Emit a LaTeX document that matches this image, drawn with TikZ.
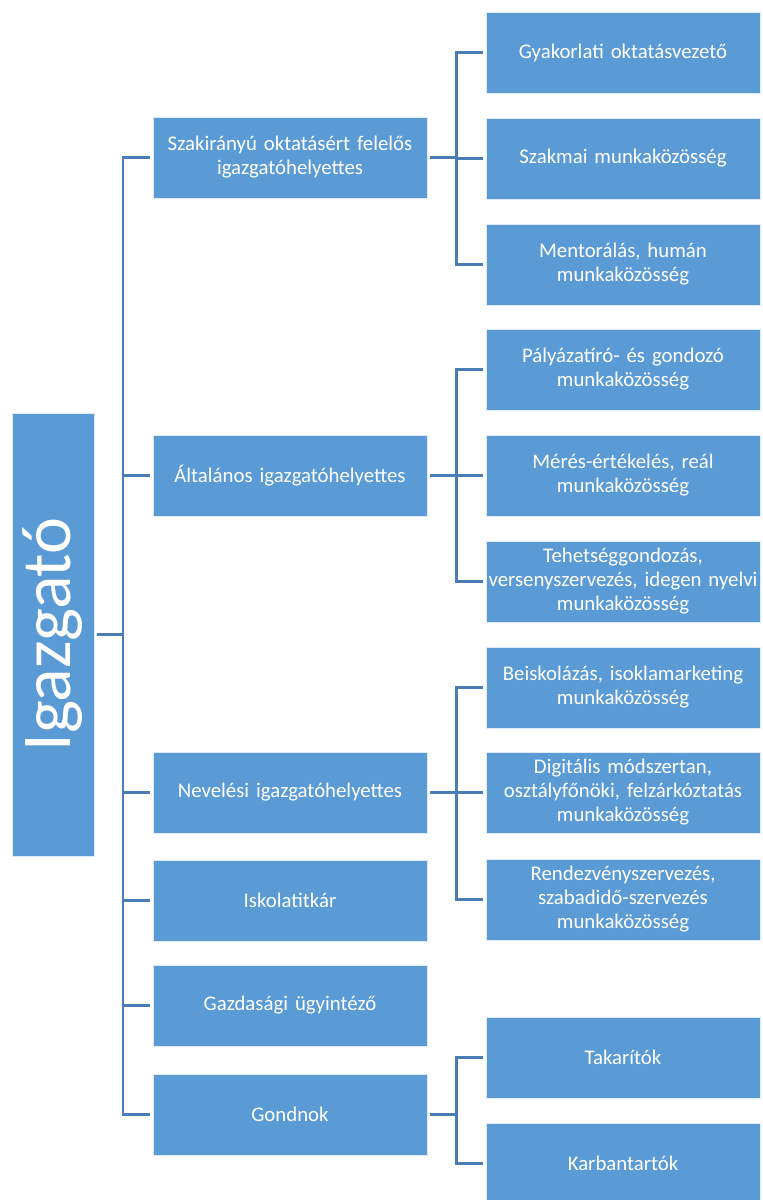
\documentclass[tikz,border=0pt]{standalone}
\usepackage{fontspec}
\setmainfont{Carlito}
\definecolor{boxblue}{HTML}{5B9BD5}
\definecolor{lineblue}{HTML}{4A7DB5}
\begin{document}
\begin{tikzpicture}[x=1pt,y=-1pt,
  box/.style={fill=boxblue,draw=white!80!boxblue,line width=0.6pt,text=white,
    minimum width=274pt,minimum height=81pt,text width=270pt,align=center,
    inner sep=0pt,outer sep=3pt,font=\fontsize{20.8}{24}\selectfont},
  link/.style={draw=lineblue,line width=2.2pt}]
  \useasboundingbox (0,0) rectangle (763,1200);
  \node [box,minimum width=82pt,minimum height=443pt,text width=,font=\fontsize{70}{74}\selectfont]
    (igazgato) at (53,634.5) {\rotatebox{90}{Igazgató}};
  \coordinate (trunk) at (123,634.5);
  \node [box] (szak) at (290,157.5) {Szakirányú oktatásért felelős\\igazgatóhelyettes};
  \node [box] (alt) at (290,475.5) {Általános igazgatóhelyettes};
  \node [box] (nev) at (290,792.5) {Nevelési igazgatóhelyettes};
  \node [box] (titkar) at (290,900.5) {Iskolatitkár};
  \node [box] (gazd) at (290,1005.5) {Gazdasági ügyintéző};
  \node [box] (gond) at (290,1114.5) {Gondnok};
  \coordinate (bus) at (456.5,0);
  \node [box] (gyak) at (623,52.5) {Gyakorlati oktatásvezető};
  \node [box] (szakmk) at (623,158.5) {Szakmai munkaközösség};
  \node [box] (ment) at (623,264.5) {Mentorálás, humán\\munkaközösség};
  \node [box] (palya) at (623,369.5) {Pályázatíró- és gondozó\\munkaközösség};
  \node [box] (meres) at (623,475.5) {Mérés-értékelés, reál\\munkaközösség};
  \node [box] (tehets) at (623,581.5) {Tehetséggondozás,\\versenyszervezés, idegen nyelvi\\munkaközösség};
  \node [box] (beisk) at (623,687.5) {Beiskolázás, isoklamarketing\\munkaközösség};
  \node [box] (digit) at (623,792.5) {Digitális módszertan,\\osztályfőnöki, felzárkóztatás\\munkaközösség};
  \node [box] (rendez) at (623,899.5) {Rendezvényszervezés,\\szabadidő-szervezés\\munkaközösség};
  \node [box] (takar) at (623,1057.5) {Takarítók};
  \node [box] (karb) at (623,1163.5) {Karbantartók};
  \draw [link] (igazgato) -- (trunk);
  \draw [link] (szak) -| (trunk);
  \draw [link] (alt) -| (trunk);
  \draw [link] (nev) -| (trunk);
  \draw [link] (titkar) -| (trunk);
  \draw [link] (gazd) -| (trunk);
  \draw [link] (gond) -| (trunk);
  \draw [link] (szak) -- (szak -| bus);
  \draw [link] (szak -| bus) |- (gyak);
  \draw [link] (szak -| bus) |- (szakmk);
  \draw [link] (szak -| bus) |- (ment);
  \draw [link] (alt) -- (alt -| bus);
  \draw [link] (alt -| bus) |- (palya);
  \draw [link] (alt -| bus) |- (meres);
  \draw [link] (alt -| bus) |- (tehets);
  \draw [link] (nev) -- (nev -| bus);
  \draw [link] (nev -| bus) |- (beisk);
  \draw [link] (nev -| bus) |- (digit);
  \draw [link] (nev -| bus) |- (rendez);
  \draw [link] (gond) -- (gond -| bus);
  \draw [link] (gond -| bus) |- (takar);
  \draw [link] (gond -| bus) |- (karb);
\end{tikzpicture}
\end{document}
